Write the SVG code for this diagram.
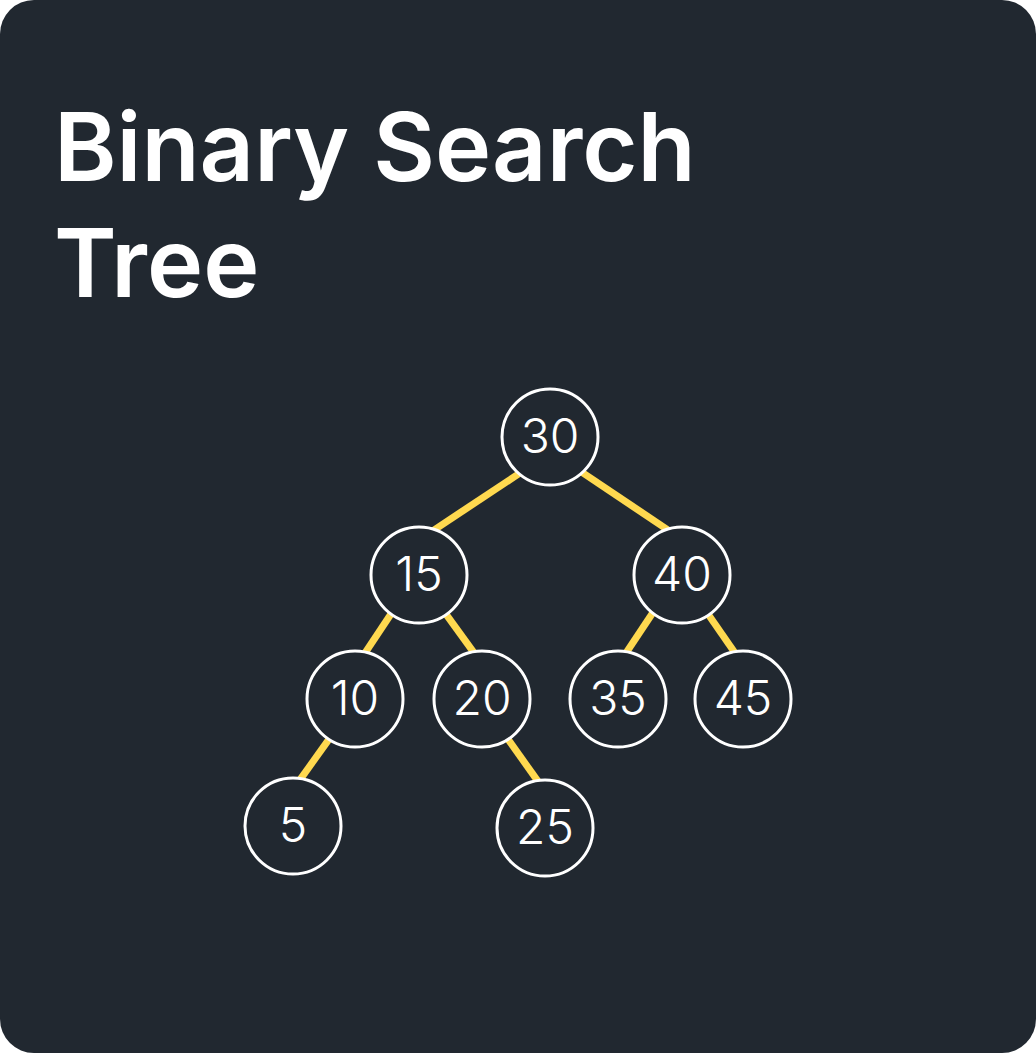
<svg xmlns="http://www.w3.org/2000/svg" width="1036" height="1053" viewBox="0 0 1036 1053">
<style>
.node circle{fill:#212830;stroke:#ffffff;stroke-width:3}
.node text{fill:#ffffff;font-family:Inter,"Noto Sans",sans-serif;font-size:48px;font-weight:300;text-anchor:middle;dominant-baseline:central}
.edges line{stroke:#ffd94f;stroke-width:7}
.title{fill:#ffffff;font-family:Inter,"Noto Sans",sans-serif;font-size:95px;font-weight:600}
</style>
<rect x="0" y="0" width="1036" height="1053" fill="#ffffff"/>
<rect x="0" y="0" width="1036" height="1053" rx="34" fill="#212830"/>
<text class="title" x="54" y="181">Binary Search</text>
<text class="title" x="54" y="297">Tree</text>
<g class="edges">
<line x1="522" y1="471.7" x2="432" y2="531.3"/>
<line x1="578" y1="469.7" x2="670" y2="531.3"/>
<line x1="392.3" y1="612" x2="363.7" y2="655"/>
<line x1="444.5" y1="612.1" x2="475.5" y2="654.9"/>
<line x1="653.3" y1="612" x2="624.7" y2="655"/>
<line x1="706.6" y1="612.1" x2="736.4" y2="654.9"/>
<line x1="330.5" y1="737.1" x2="298.5" y2="781.9"/>
<line x1="506.5" y1="737.1" x2="540.5" y2="784.9"/>
</g>
<g id="n30" class="node"><circle cx="550" cy="437" r="48"/><text x="550" y="435">30</text></g>
<g id="n15" class="node"><circle cx="419" cy="575" r="48"/><text x="419" y="573">15</text></g>
<g id="n40" class="node"><circle cx="682" cy="575" r="48"/><text x="682" y="573">40</text></g>
<g id="n10" class="node"><circle cx="355" cy="699" r="48"/><text x="355" y="697">10</text></g>
<g id="n20" class="node"><circle cx="482" cy="699" r="48"/><text x="482" y="697">20</text></g>
<g id="n35" class="node"><circle cx="618" cy="699" r="48"/><text x="618" y="697">35</text></g>
<g id="n45" class="node"><circle cx="743" cy="699" r="48"/><text x="743" y="697">45</text></g>
<g id="n5" class="node"><circle cx="293" cy="826" r="48"/><text x="293" y="824">5</text></g>
<g id="n25" class="node"><circle cx="545" cy="828" r="48"/><text x="545" y="826">25</text></g>
</svg>
